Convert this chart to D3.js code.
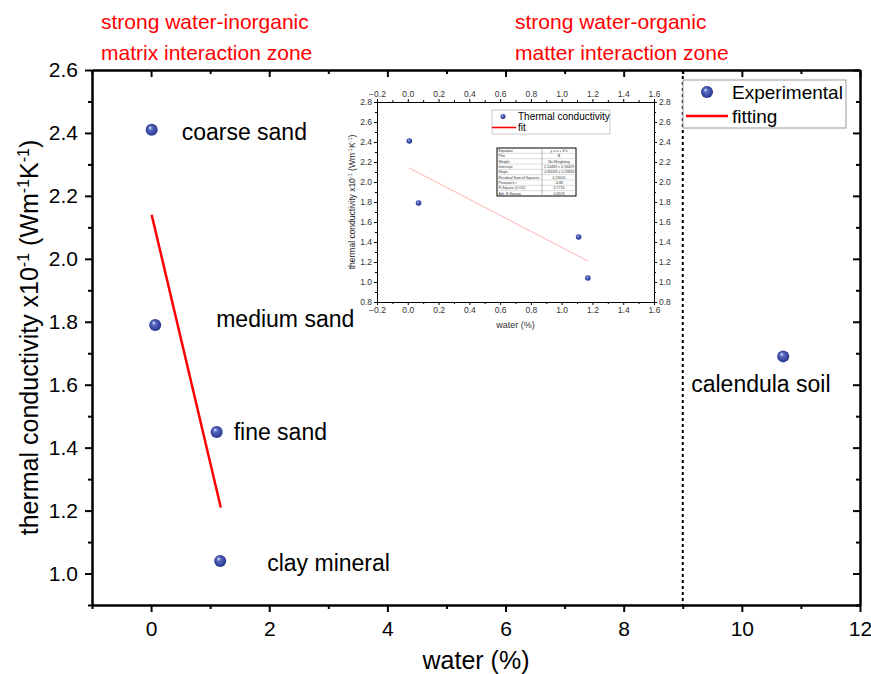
<!DOCTYPE html>
<html>
<head>
<meta charset="utf-8">
<script src="https://cdn.jsdelivr.net/npm/d3@7"></script>
<style>
  body { margin: 0; background: #fff; }
  svg text { font-family: "Liberation Sans", Arial, sans-serif; }
</style>
</head>
<body>
<div id="chart"></div>
<script>
// data
var soilNames = ["coarse sand", "medium sand", "fine sand", "clay mineral", "calendula soil"];
var waterValues = [0.01, 0.07, 1.11, 1.17, 10.7];
var conductValues = [2.41, 1.79, 1.45, 1.04, 1.69];
// fit line ends (inorganic soils only)
var fitWater = [0.01, 1.18];
var fitConduct = [2.14, 1.21];
// where the zones split
var zoneSplit = 9;
var zoneLabels = [["strong water-inorganic", "matrix interaction zone"], ["strong water-organic", "matter interaction zone"]];
// offsets of each label from its point, in px
var labelDx = [30, 61, 17, 47, -92];
var labelDy = [2, -6, 0, 2, 28];
// fit table of the inset
var tableRows = [
  ["Equation", "y = a + b*x"],
  ["Plot", "B"],
  ["Weight", "No Weighting"],
  ["Intercept", "2.14483 \u00b1 0.18429"],
  ["Slope", "-0.80043 \u00b1 0.23830"],
  ["Residual Sum of Squares", "0.23005"],
  ["Pearson's r", "-0.88"],
  ["R-Square (COD)", "0.7716"],
  ["Adj. R-Square", "0.6574"]
];

var width = 871, height = 674;

var svg = d3.select("#chart")
  .append("svg")
  .attr("width", width)
  .attr("height", height);

svg.append("rect").attr("width", width).attr("height", height).attr("fill", "#fff");

// sphere look for the markers
var defs = svg.append("defs");
var grad = defs.append("radialGradient")
  .attr("id", "ball")
  .attr("cx", "50%").attr("cy", "50%").attr("r", "55%")
  .attr("fx", "35%").attr("fy", "30%");
grad.append("stop").attr("offset", "0%").attr("stop-color", "#e8ecff");
grad.append("stop").attr("offset", "30%").attr("stop-color", "#5a6cc4");
grad.append("stop").attr("offset", "100%").attr("stop-color", "#1f2c85");

/* ------------ main chart --------------*/
var x = d3.scaleLinear().domain([-1, 12]).range([92, 860]);
var y = d3.scaleLinear().domain([0.9, 2.6]).range([605, 70]);

var xMajor = d3.range(0, 13, 2);
var xMinor = d3.range(-1, 12, 2);
var yMajor = d3.range(1.0, 2.61, 0.2);
var yMinor = d3.range(0.9, 2.6, 0.2);

function tickStyle(g, fontSize) {
  g.select(".domain").attr("stroke", "#000").attr("stroke-width", 2);
  g.selectAll(".tick line").attr("stroke", "#000").attr("stroke-width", 2);
  g.selectAll(".tick text").attr("fill", "#000").style("font-size", fontSize + "px");
}

// bottom
var gb = svg.append("g").attr("transform", "translate(0,605)")
  .call(d3.axisBottom(x).tickValues(xMajor).tickSize(7).tickPadding(9).tickSizeOuter(0));
tickStyle(gb, 21);
svg.append("g").attr("transform", "translate(0,605)")
  .call(d3.axisBottom(x).tickValues(xMinor).tickSize(4).tickFormat("").tickSizeOuter(0))
  .call(tickStyle, 21);
// top, ticks inward
svg.append("g").attr("transform", "translate(0,70)")
  .call(d3.axisBottom(x).tickValues(xMajor).tickSize(7).tickFormat("").tickSizeOuter(0))
  .call(tickStyle, 21);
svg.append("g").attr("transform", "translate(0,70)")
  .call(d3.axisBottom(x).tickValues(xMinor).tickSize(4).tickFormat("").tickSizeOuter(0))
  .call(tickStyle, 21);
// left
var gl = svg.append("g").attr("transform", "translate(92,0)")
  .call(d3.axisLeft(y).tickValues(yMajor).tickSize(7).tickPadding(7).tickFormat(d3.format(".1f")).tickSizeOuter(0));
tickStyle(gl, 21);
svg.append("g").attr("transform", "translate(92,0)")
  .call(d3.axisLeft(y).tickValues(yMinor).tickSize(4).tickFormat("").tickSizeOuter(0))
  .call(tickStyle, 21);
// right, ticks inward
svg.append("g").attr("transform", "translate(860,0)")
  .call(d3.axisLeft(y).tickValues(yMajor).tickSize(7).tickFormat("").tickSizeOuter(0))
  .call(tickStyle, 21);
svg.append("g").attr("transform", "translate(860,0)")
  .call(d3.axisLeft(y).tickValues(yMinor).tickSize(4).tickFormat("").tickSizeOuter(0))
  .call(tickStyle, 21);

// axis titles
svg.append("text")
  .attr("x", (x(-1) + x(12)) / 2).attr("y", 669)
  .attr("text-anchor", "middle")
  .style("font-size", "25px")
  .text("water (%)");

var yt = svg.append("text")
  .attr("transform", "translate(38," + ((y(0.9) + y(2.6)) / 2) + ") rotate(-90)")
  .attr("text-anchor", "middle")
  .style("font-size", "25px");
yt.append("tspan").text("thermal conductivity x10");
yt.append("tspan").attr("dy", -9).style("font-size", "16px").text("-1");
yt.append("tspan").attr("dy", 9).text(" (Wm");
yt.append("tspan").attr("dy", -9).style("font-size", "16px").text("-1");
yt.append("tspan").attr("dy", 9).text("K");
yt.append("tspan").attr("dy", -9).style("font-size", "16px").text("-1");
yt.append("tspan").attr("dy", 9).text(")");

// dotted split line
svg.append("line")
  .attr("x1", x(zoneSplit)).attr("x2", x(zoneSplit))
  .attr("y1", y(2.6)).attr("y2", y(0.9))
  .attr("stroke", "#000").attr("stroke-width", 2)
  .attr("stroke-dasharray", "3,3");

// zone labels in red
zoneLabels.forEach(function(lines, i) {
  var lx = i == 0 ? 101 : 515;
  lines.forEach(function(t, j) {
    svg.append("text")
      .attr("x", lx).attr("y", 29 + j * 31)
      .attr("fill", "#ff0000")
      .style("font-size", "21px")
      .text(t);
  });
});

// fit line
svg.append("line")
  .attr("x1", x(fitWater[0])).attr("y1", y(fitConduct[0]))
  .attr("x2", x(fitWater[1])).attr("y2", y(fitConduct[1]))
  .attr("stroke", "#ff0000").attr("stroke-width", 2.5);

// points + names
svg.selectAll("circle.pt")
  .data(waterValues)
  .enter().append("circle")
  .attr("class", "pt")
  .attr("cx", function(d) { return x(d); })
  .attr("cy", function(d, i) { return y(conductValues[i]); })
  .attr("r", 6)
  .attr("fill", "url(#ball)");

svg.selectAll("text.name")
  .data(soilNames)
  .enter().append("text")
  .attr("class", "name")
  .attr("x", function(d, i) { return x(waterValues[i]) + labelDx[i]; })
  .attr("y", function(d, i) { return y(conductValues[i]) + labelDy[i]; })
  .attr("dy", "0.35em")
  .style("font-size", "23px")
  .text(function(d) { return d; });

// legend
var lg = svg.append("g").attr("transform", "translate(683,80)");
lg.append("rect").attr("width", 163).attr("height", 48)
  .attr("fill", "#fff").attr("stroke", "#999").attr("stroke-width", 1);
lg.append("circle").attr("cx", 24).attr("cy", 12).attr("r", 6).attr("fill", "url(#ball)");
lg.append("text").attr("x", 49).attr("y", 12).attr("dy", "0.35em").style("font-size", "19px").text("Experimental");
lg.append("line").attr("x1", 3).attr("x2", 45).attr("y1", 36).attr("y2", 36)
  .attr("stroke", "#ff0000").attr("stroke-width", 2.5);
lg.append("text").attr("x", 49).attr("y", 36).attr("dy", "0.35em").style("font-size", "19px").text("fitting");

/* ------------ inset chart --------------*/
var x2 = d3.scaleLinear().domain([-0.2, 1.6]).range([377, 654]);
var y2 = d3.scaleLinear().domain([0.8, 2.8]).range([302, 102]);
var x2Major = d3.range(0, 10).map(function(i) { return -0.2 + i * 0.2; });
var x2Minor = d3.range(0, 9).map(function(i) { return -0.1 + i * 0.2; });
var y2Major = d3.range(0, 11).map(function(i) { return 0.8 + i * 0.2; });
var y2Minor = d3.range(0, 10).map(function(i) { return 0.9 + i * 0.2; });

var inset = svg.append("g");
inset.append("rect")
  .attr("x", 377).attr("y", 102).attr("width", 277).attr("height", 200)
  .attr("fill", "#fff");

function smallStyle(g) {
  g.select(".domain").attr("stroke", "#000").attr("stroke-width", 1);
  g.selectAll(".tick line").attr("stroke", "#000").attr("stroke-width", 1);
  g.selectAll(".tick text").attr("fill", "#333").style("font-size", "8.5px");
}
var f1 = d3.format(".1f");

inset.append("g").attr("transform", "translate(0,302)")
  .call(d3.axisBottom(x2).tickValues(x2Major).tickSize(3).tickPadding(2).tickFormat(f1).tickSizeOuter(0)).call(smallStyle);
inset.append("g").attr("transform", "translate(0,302)")
  .call(d3.axisBottom(x2).tickValues(x2Minor).tickSize(2).tickFormat("").tickSizeOuter(0)).call(smallStyle);
inset.append("g").attr("transform", "translate(0,102)")
  .call(d3.axisTop(x2).tickValues(x2Major).tickSize(3).tickPadding(2).tickFormat(f1).tickSizeOuter(0)).call(smallStyle);
inset.append("g").attr("transform", "translate(0,102)")
  .call(d3.axisTop(x2).tickValues(x2Minor).tickSize(2).tickFormat("").tickSizeOuter(0)).call(smallStyle);
inset.append("g").attr("transform", "translate(377,0)")
  .call(d3.axisLeft(y2).tickValues(y2Major).tickSize(3).tickPadding(2).tickFormat(f1).tickSizeOuter(0)).call(smallStyle);
inset.append("g").attr("transform", "translate(377,0)")
  .call(d3.axisLeft(y2).tickValues(y2Minor).tickSize(2).tickFormat("").tickSizeOuter(0)).call(smallStyle);
inset.append("g").attr("transform", "translate(654,0)")
  .call(d3.axisRight(y2).tickValues(y2Major).tickSize(3).tickPadding(2).tickFormat(f1).tickSizeOuter(0)).call(smallStyle);
inset.append("g").attr("transform", "translate(654,0)")
  .call(d3.axisRight(y2).tickValues(y2Minor).tickSize(2).tickFormat("").tickSizeOuter(0)).call(smallStyle);

inset.append("text")
  .attr("x", (x2(-0.2) + x2(1.6)) / 2).attr("y", 328)
  .attr("text-anchor", "middle").attr("fill", "#333")
  .style("font-size", "9px").text("water (%)");

var yt2 = inset.append("text")
  .attr("transform", "translate(355," + ((y2(0.8) + y2(2.8)) / 2) + ") rotate(-90)")
  .attr("text-anchor", "middle").attr("fill", "#222")
  .style("font-size", "8.5px");
yt2.append("tspan").text("thermal conductivity x10");
yt2.append("tspan").attr("dy", -3).style("font-size", "5.5px").text("-1");
yt2.append("tspan").attr("dy", 3).text(" (Wm");
yt2.append("tspan").attr("dy", -3).style("font-size", "5.5px").text("-1");
yt2.append("tspan").attr("dy", 3).text("K");
yt2.append("tspan").attr("dy", -3).style("font-size", "5.5px").text("-1");
yt2.append("tspan").attr("dy", 3).text(")");

// inset fit
inset.append("line")
  .attr("x1", x2(fitWater[0])).attr("y1", y2(fitConduct[0]))
  .attr("x2", x2(fitWater[1] - 0.01)).attr("y2", y2(fitConduct[1]))
  .attr("stroke", "#ff9a9a").attr("stroke-width", 0.8);

// inset points: the four inorganic soils
inset.selectAll("circle")
  .data(waterValues.slice(0, 4))
  .enter().append("circle")
  .attr("cx", function(d) { return x2(d); })
  .attr("cy", function(d, i) { return y2(conductValues[i]); })
  .attr("r", 2.8)
  .attr("fill", "url(#ball)");

// inset legend
var lg2 = inset.append("g").attr("transform", "translate(492,110)");
lg2.append("rect").attr("width", 118).attr("height", 24)
  .attr("fill", "#fff").attr("stroke", "#bbb").attr("stroke-width", 0.8);
lg2.append("circle").attr("cx", 11).attr("cy", 6.5).attr("r", 2.5).attr("fill", "url(#ball)");
lg2.append("text").attr("x", 26).attr("y", 6.5).attr("dy", "0.35em").style("font-size", "10px").text("Thermal conductivity");
lg2.append("line").attr("x1", 0).attr("x2", 24).attr("y1", 17.5).attr("y2", 17.5)
  .attr("stroke", "#ff0000").attr("stroke-width", 1.6);
lg2.append("text").attr("x", 26).attr("y", 17.5).attr("dy", "0.35em").style("font-size", "10px").text("fit");

// inset fit table
var tb = inset.append("g").attr("transform", "translate(497,148)");
var rowH = 48 / tableRows.length;
tb.append("rect").attr("width", 79).attr("height", 48)
  .attr("fill", "#fff").attr("stroke", "#000").attr("stroke-width", 1);
tb.append("line").attr("x1", 45).attr("x2", 45).attr("y1", 0).attr("y2", 48)
  .attr("stroke", "#888").attr("stroke-width", 0.6);
tableRows.forEach(function(r, i) {
  if (i > 0) {
    tb.append("line").attr("x1", 0).attr("x2", 79).attr("y1", i * rowH).attr("y2", i * rowH)
      .attr("stroke", "#aaa").attr("stroke-width", 0.4);
  }
  tb.append("text").attr("x", 1.5).attr("y", i * rowH + rowH / 2).attr("dy", "0.35em")
    .attr("fill", "#333").style("font-size", "3.6px").text(r[0]);
  tb.append("text").attr("x", 62).attr("y", i * rowH + rowH / 2).attr("dy", "0.35em")
    .attr("text-anchor", "middle").attr("fill", "#333").style("font-size", "3.6px").text(r[1]);
});
</script>
</body>
</html>
